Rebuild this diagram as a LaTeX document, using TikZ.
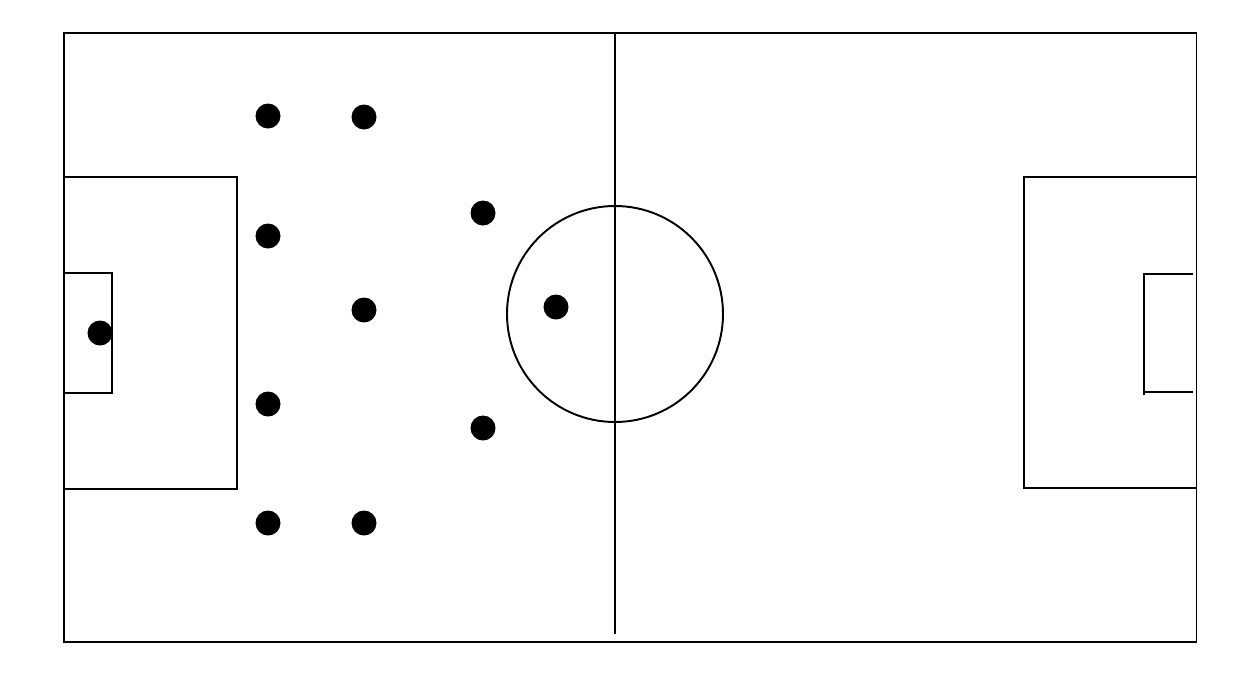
\documentclass[tikz,border=0pt]{standalone}
\usepackage{tikz}

\begin{document}
\begin{tikzpicture}[scale=0.2]
\tikzstyle{every path}+=[line width=1.1pt]
\tikzstyle{player}=[fill=black]
\useasboundingbox (0,0) rectangle (125.7,-67.6);
\draw [black] (6.4,-3.3) rectangle (119.65,-64.2);
\draw [black] (61.5,-3.3) -- (61.5,-63.4);
\draw [black] (61.5,-31.4) circle (10.8);
\draw [black] (6.4,-17.7) -- (23.7,-17.7) -- (23.7,-48.9) -- (6.4,-48.9);
\draw [black] (6.4,-27.3) -- (11.2,-27.3) -- (11.2,-39.3) -- (6.4,-39.3);
\draw [black] (119.65,-17.7) -- (102.4,-17.7) -- (102.4,-48.8) -- (119.65,-48.8);
\draw [black] (119.3,-27.4) -- (114.4,-27.4) -- (114.4,-39.5);
\draw [black] (114.4,-39.2) -- (119.3,-39.2);
\fill [player] (26.8,-11.6) circle (1.25);
\fill [player] (36.4,-11.7) circle (1.25);
\fill [player] (26.8,-23.6) circle (1.25);
\fill [player] (48.3,-21.3) circle (1.25);
\fill [player] (36.4,-31.0) circle (1.25);
\fill [player] (55.6,-30.7) circle (1.25);
\fill [player] (10.0,-33.3) circle (1.25);
\fill [player] (26.8,-40.4) circle (1.25);
\fill [player] (48.3,-42.8) circle (1.25);
\fill [player] (26.8,-52.3) circle (1.25);
\fill [player] (36.4,-52.3) circle (1.25);
\end{tikzpicture}
\end{document}
